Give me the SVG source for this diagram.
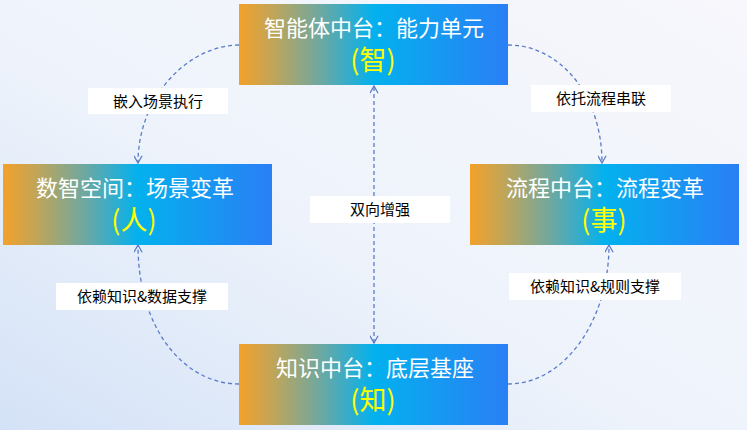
<svg xmlns="http://www.w3.org/2000/svg" width="747" height="430" viewBox="0 0 747 430">
<defs>
<linearGradient id="bg" x1="1" y1="0" x2="0" y2="1">
<stop offset="0" stop-color="#f7f7fc"/>
<stop offset="0.55" stop-color="#eef3fb"/>
<stop offset="1" stop-color="#d4e2f7"/>
</linearGradient>
<linearGradient id="boxg" x1="0" y1="0" x2="1" y2="0">
<stop offset="0" stop-color="#f3a12a"/>
<stop offset="0.12" stop-color="#c3a556"/>
<stop offset="0.3" stop-color="#6fa8a0"/>
<stop offset="0.5" stop-color="#03b1ee"/>
<stop offset="1" stop-color="#2a7ff5"/>
</linearGradient>
<marker id="arr" viewBox="0 0 10 10" refX="9" refY="5" markerWidth="9" markerHeight="9" markerUnits="userSpaceOnUse" orient="auto-start-reverse">
<path d="M1,0.5 L9,5 L1,9.5" fill="none" stroke="#5a7cc8" stroke-width="1.4"/>
</marker>
</defs>
<style>
.box{fill:url(#boxg);}
.t1{font-family:"Noto Sans CJK SC","Noto Sans",sans-serif;font-size:22px;fill:#ffffff;text-anchor:middle;}
.t2{font-family:"Noto Sans CJK SC","Noto Sans",sans-serif;font-size:27px;fill:#ffff00;text-anchor:middle;}
.edge{fill:none;stroke:#5a7cc8;stroke-width:1.3;stroke-dasharray:4 3;marker-end:url(#arr);}
.lb{fill:#ffffff;}
.lt{font-family:"Noto Sans CJK SC","Noto Sans",sans-serif;font-size:15px;fill:#000000;text-anchor:middle;}
</style>
<rect x="0" y="0" width="747" height="430" fill="url(#bg)"/>
<g id="connectors">
<path class="edge" d="M239,45 C190,45 138,95 138,163"/>
<path class="edge" d="M508,45 C560,45 602,95 602,163"/>
<path class="edge" d="M239,384 C185,384 138,330 138,245"/>
<path class="edge" d="M508,384 C565,384 609,320 609,245"/>
<path class="edge" d="M374,343 L374,86" style="marker-start:url(#arr)"/>
<g id="label-tl"><rect class="lb" x="88" y="88" width="140" height="26"/><text class="lt" x="158" y="106.5">嵌入场景执行</text></g>
<g id="label-tr"><rect class="lb" x="531" y="85" width="140" height="27"/><text class="lt" x="601" y="104">依托流程串联</text></g>
<g id="label-bl"><rect class="lb" x="56" y="283" width="172" height="27"/><text class="lt" x="142" y="302">依赖知识&amp;数据支撑</text></g>
<g id="label-br"><rect class="lb" x="509" y="273" width="172" height="27"/><text class="lt" x="595" y="292">依赖知识&amp;规则支撑</text></g>
<g id="label-c"><rect class="lb" x="310" y="196" width="140" height="27"/><text class="lt" x="380" y="215">双向增强</text></g>
</g>
<g id="node-top">
<rect class="box" x="239" y="4" width="269" height="81"/>
<text class="t1" x="374" y="36">智能体中台：能力单元</text>
<text class="t2" x="373" y="70">(智)</text>
</g>
<g id="node-left">
<rect class="box" x="3" y="164" width="269" height="81"/>
<text class="t1" x="135" y="196">数智空间：场景变革</text>
<text class="t2" x="134" y="230">(人)</text>
</g>
<g id="node-right">
<rect class="box" x="470" y="164" width="269" height="81"/>
<text class="t1" x="605" y="196">流程中台：流程变革</text>
<text class="t2" x="604" y="230">(事)</text>
</g>
<g id="node-bottom">
<rect class="box" x="239" y="344" width="269" height="81"/>
<text class="t1" x="375" y="376">知识中台：底层基座</text>
<text class="t2" x="373" y="410">(知)</text>
</g>
</svg>
